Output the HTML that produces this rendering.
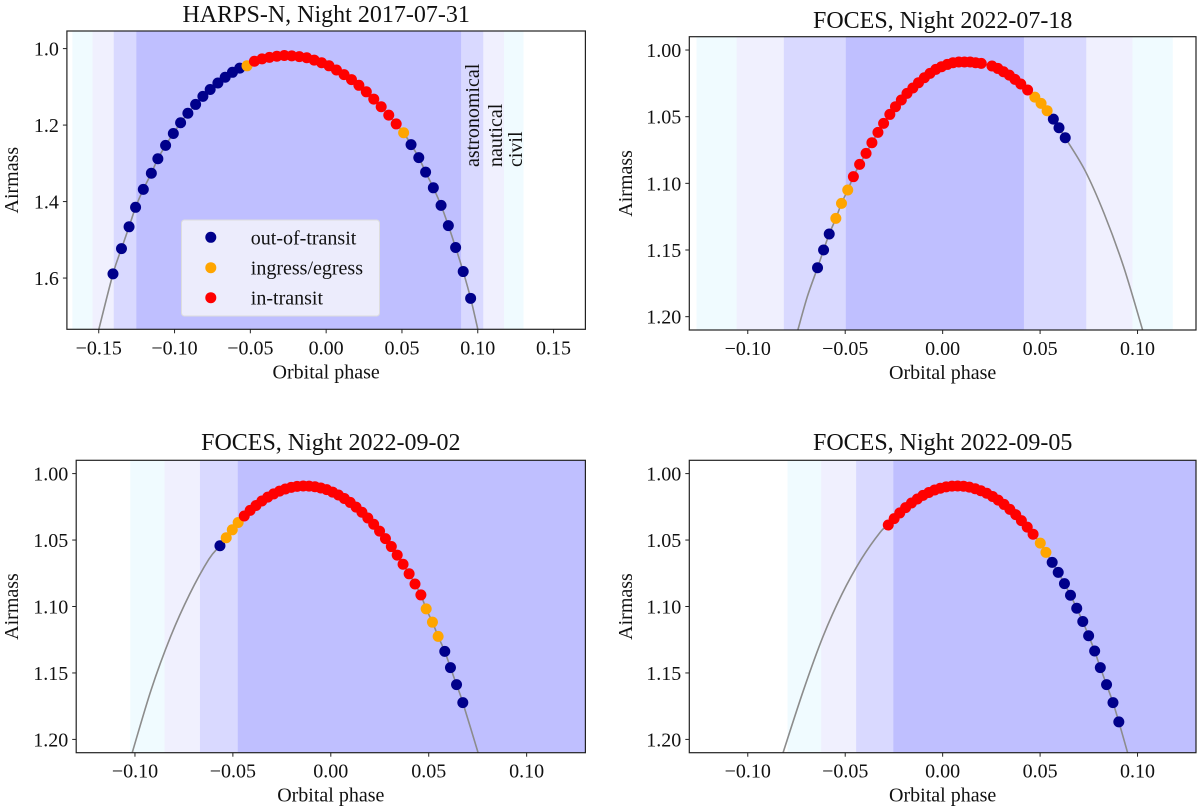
<!DOCTYPE html>
<html><head><meta charset="utf-8">
<style>
html,body{margin:0;padding:0;background:#fff;}
svg{display:block;font-family:"Liberation Serif","DejaVu Serif",serif;}
</style></head>
<body>
<svg id="fig" width="1200" height="812" viewBox="0 0 1200 812" xmlns="http://www.w3.org/2000/svg"></svg>
<script>
// ---------- Panel 1: HARPS-N 2017-07-31 ----------
const p1OutPhase=[-0.1406,-0.1350,-0.1300,-0.1257,-0.1206,-0.1153,-0.1110,-0.1059,-0.1008,-0.0960,-0.0912,-0.0861,-0.0813,-0.0765,-0.0714,-0.0666,-0.0618,-0.0570,0.0560,0.0611,0.0656,0.0707,0.0758,0.0806,0.0854,0.0904,0.0953];
const p1OutAm=[1.589,1.523,1.466,1.415,1.368,1.326,1.288,1.253,1.222,1.194,1.169,1.146,1.125,1.107,1.090,1.075,1.062,1.051,1.251,1.285,1.323,1.364,1.410,1.463,1.520,1.583,1.653];
const p1IngPhase=[-0.0522,0.0511];
const p1IngAm=[1.045,1.220];
const p1InPhase=[-0.0473,-0.0423,-0.0374,-0.0325,-0.0276,-0.0227,-0.0177,-0.0128,-0.0079,-0.0030,0.0019,0.0068,0.0118,0.0167,0.0216,0.0265,0.0314,0.0363,0.0413,0.0462];
const p1InAm=[1.033,1.027,1.023,1.020,1.018,1.019,1.021,1.024,1.030,1.037,1.045,1.056,1.068,1.081,1.096,1.113,1.132,1.152,1.174,1.197];
const p1CurvePhase=[-0.1500,0.1001];
const p1CurveAm=[1.735,1.735];
const p1BandStart=[-0.1674,-0.1541,-0.1401,-0.1252];
const p1BandEnd=[0.1302,0.1173,0.1036,0.0890];
const p1XTicks=[-0.15,-0.10,-0.05,0.00,0.05,0.10,0.15];
const p1XTickLabels=["\u22120.15","\u22120.10","\u22120.05","0.00","0.05","0.10","0.15"];
const p1YTicks=[1.0,1.2,1.4,1.6];
const p1YTickLabels=["1.0","1.2","1.4","1.6"];

// ---------- Panel 2: FOCES 2022-07-18 ----------
const p2OutPhase=[-0.0642,-0.0611,-0.0582,0.0568,0.0597,0.0629];
const p2OutAm=[1.1633,1.150,1.138,1.0518,1.0583,1.0658];
const p2IngPhase=[-0.0548,-0.0519,-0.0487,0.0473,0.0505,0.0536];
const p2IngAm=[1.1263,1.115,1.105,1.0353,1.040,1.0455];
const p2InPhase=[-0.0458,-0.0426,-0.0393,-0.0363,-0.0332,-0.0303,-0.0271,-0.0242,-0.0212,-0.0183,-0.0153,-0.0124,-0.0094,-0.0065,-0.0035,-0.0006,0.0024,0.0053,0.0083,0.0112,0.0141,0.0169,0.0198,0.0253,0.0283,0.0312,0.0342,0.0371,0.0401,0.0436];
const p2InAm=[1.095,1.0858,1.0775,1.0695,1.0618,1.055,1.0483,1.0425,1.0375,1.0325,1.0285,1.0245,1.0208,1.0175,1.0145,1.0125,1.0108,1.0095,1.009,1.009,1.009,1.0095,1.010,1.012,1.0138,1.0163,1.0188,1.022,1.0255,1.030];
const p2CurvePhase=[-0.0743,-0.0694,0.0731,0.0829,0.0928,0.1026];
const p2CurveAm=[1.210,1.1848,1.0905,1.1228,1.1623,1.210];
const p2BandStart=[-0.1263,-0.1057,-0.0815,-0.0497];
const p2BandEnd=[0.1181,0.0974,0.0737,0.0417];

// ---------- Panel 3: FOCES 2022-09-02 ----------
const p3OutPhase=[-0.0566,0.0582,0.0611,0.0642,0.0674];
const p3OutAm=[1.0543,1.1338,1.146,1.1588,1.1723];
const p3IngPhase=[-0.0534,-0.0503,-0.0473,0.0487,0.0519,0.0548];
const p3IngAm=[1.0483,1.0423,1.0368,1.1018,1.1118,1.1225];
const p3InPhase=[-0.0442,-0.0412,-0.0382,-0.0352,-0.0322,-0.0292,-0.0262,-0.0232,-0.0202,-0.0172,-0.0141,-0.0111,-0.0081,-0.0051,-0.0021,0.0009,0.0039,0.0069,0.0099,0.0129,0.0159,0.0189,0.0219,0.0249,0.0279,0.0309,0.0339,0.0369,0.0400,0.0430,0.0460];
const p3InAm=[1.0319,1.0277,1.0240,1.0206,1.0177,1.0153,1.0132,1.0116,1.0104,1.0096,1.0093,1.0094,1.0099,1.0108,1.0121,1.0139,1.0161,1.0187,1.0217,1.0252,1.0291,1.0334,1.0381,1.0433,1.0489,1.0549,1.0613,1.0682,1.0754,1.0831,1.0913];
const p3CurvePhase=[-0.1014,-0.0917,-0.0819,-0.0721,-0.0623,0.0752];
const p3CurveAm=[1.210,1.1625,1.123,1.0908,1.0645,1.210];
const p3BandStart=[-0.1024,-0.0849,-0.0668,-0.0475];
const p3BandEnd=[0.2,0.2,0.2,0.2];

// ---------- Panel 4: FOCES 2022-09-05 ----------
const p4OutPhase=[0.0562,0.0593,0.0625,0.0656,0.0688,0.0719,0.0749,0.0780,0.0809,0.0841,0.0874,0.0904];
const p4OutAm=[1.0668,1.0743,1.0828,1.0915,1.1013,1.1113,1.122,1.1335,1.146,1.1588,1.1723,1.1868];
const p4IngPhase=[0.0501,0.0530];
const p4IngAm=[1.0523,1.0593];
const p4InPhase=[-0.0279,-0.0249,-0.0220,-0.0190,-0.0160,-0.0130,-0.0101,-0.0071,-0.0041,-0.0012,0.0018,0.0048,0.0077,0.0107,0.0137,0.0167,0.0196,0.0226,0.0256,0.0285,0.0315,0.0345,0.0375,0.0404,0.0434,0.0464];
const p4InAm=[1.0387,1.0339,1.0296,1.0256,1.0221,1.0191,1.0164,1.0142,1.0123,1.0110,1.0100,1.0094,1.0093,1.0095,1.0102,1.0114,1.0129,1.0148,1.0172,1.0200,1.0232,1.0269,1.0309,1.0354,1.0403,1.0456];
const p4CurvePhase=[-0.0819,-0.0713,-0.0615,-0.0517,-0.0418,-0.0320,0.0949];
const p4CurveAm=[1.210,1.1625,1.123,1.0908,1.0645,1.044,1.210];
const p4BandStart=[-0.0796,-0.0623,-0.0444,-0.0253];
const p4BandEnd=[0.2,0.2,0.2,0.2];

const focesXTicks=[-0.10,-0.05,0.00,0.05,0.10];
const focesXTickLabels=["\u22120.10","\u22120.05","0.00","0.05","0.10"];
const focesYTicks=[1.00,1.05,1.10,1.15,1.20];
const focesYTickLabels=["1.00","1.05","1.10","1.15","1.20"];

const bandColors=["#f0fbff","#f0f0fe","#d9d9ff","#bfbfff"];
const NS="http://www.w3.org/2000/svg";
const svg=document.getElementById('fig');
function mk(tag,attrs,parent){const e=document.createElementNS(NS,tag);for(const k in attrs)e.setAttribute(k,attrs[k]);(parent||svg).appendChild(e);return e;}

function panel(id,cfg){
  const g=mk('g',{});
  
  
  const L=cfg.box[0],T=cfg.box[1],R=cfg.box[2],B=cfg.box[3];
  const sx=v=>L+(v-cfg.xlim[0])/(cfg.xlim[1]-cfg.xlim[0])*(R-L);
  const sy=v=>T+(v-cfg.ylim[0])/(cfg.ylim[1]-cfg.ylim[0])*(B-T);
  const cp=mk('clipPath',{id:id+'-clip'},g);
  mk('rect',{x:L,y:T,width:R-L,height:B-T},cp);
  const plot=mk('g',{'clip-path':'url(#'+id+'-clip)'},g);
  
  
  const bandNames=['civil-twilight-band','nautical-twilight-band','astronomical-twilight-band','night-band'];
  for(let i=0;i<cfg.bs.length;i++){
    const r=mk('rect',{x:sx(cfg.bs[i]),y:T,width:sx(cfg.be[i])-sx(cfg.bs[i]),height:B-T,fill:bandColors[i]},plot);
    
    
  }
  let pts=[];
  cfg.curve[0].forEach((p,i)=>pts.push([p,cfg.curve[1][i]]));
  cfg.series.forEach(s=>s.ph.forEach((p,i)=>pts.push([p,s.am[i]])));
  pts.sort((a,b)=>a[0]-b[0]);
  pts=pts.map(p=>[sx(p[0]),sy(p[1])]);
  let d='M'+pts[0][0].toFixed(2)+','+pts[0][1].toFixed(2);
  for(let i=0;i<pts.length-1;i++){
    const p0=pts[Math.max(i-1,0)],p1=pts[i],p2=pts[i+1],p3=pts[Math.min(i+2,pts.length-1)];
    const c1=[p1[0]+(p2[0]-p0[0])/6,p1[1]+(p2[1]-p0[1])/6];
    const c2=[p2[0]-(p3[0]-p1[0])/6,p2[1]-(p3[1]-p1[1])/6];
    d+=' C'+c1[0].toFixed(2)+','+c1[1].toFixed(2)+' '+c2[0].toFixed(2)+','+c2[1].toFixed(2)+' '+p2[0].toFixed(2)+','+p2[1].toFixed(2);
  }
  const c=mk('path',{d:d,fill:'none',stroke:'#8c8c8c','stroke-width':1.6},plot);
  
  
  cfg.series.forEach(s=>{
    s.ph.forEach((p,i)=>{
      const m=mk('circle',{cx:sx(p),cy:sy(s.am[i]),r:5.5,fill:s.color},plot);
      
      
    });
  });
  const f=mk('rect',{x:L,y:T,width:R-L,height:B-T,fill:'none',stroke:'#222','stroke-width':1.2},g);
  
  
  cfg.xt.forEach((v,i)=>{
    const x=sx(v);
    mk('line',{x1:x,y1:B,x2:x,y2:B+4,stroke:'#222','stroke-width':1},g);
    const t=mk('text',{x:x,y:B+25,'text-anchor':'middle','font-size':20,fill:'#111'},g);
    t.textContent=cfg.xtl[i];
    
    
  });
  cfg.yt.forEach((v,i)=>{
    const y=sy(v);
    mk('line',{x1:L-4,y1:y,x2:L,y2:y,stroke:'#222','stroke-width':1},g);
    const t=mk('text',{x:L-8,y:y+7,'text-anchor':'end','font-size':20,fill:'#111'},g);
    t.textContent=cfg.ytl[i];
    
    
  });
  const tt=mk('text',{x:(L+R)/2,y:cfg.titleY,'text-anchor':'middle','font-size':24,fill:'#111'},g);
  tt.textContent=cfg.title;
  
  
  const xl=mk('text',{x:(L+R)/2,y:B+49,'text-anchor':'middle','font-size':20,fill:'#111'},g);
  xl.textContent='Orbital phase';
  
  
  const yx=cfg.ylabX, yc=(T+B)/2;
  const yl=mk('text',{x:yx,y:yc,'text-anchor':'middle','font-size':20,fill:'#111',transform:'rotate(-90 '+yx+' '+yc+')'},g);
  yl.textContent='Airmass';
  
  
  return {g,sx,sy};
}
function ser(out,outA,ing,ingA,inn,innA){
  return [{ph:out,am:outA,color:'#00008b',name:'out-of-transit'},{ph:ing,am:ingA,color:'#ffa500',name:'ingress-egress'},{ph:inn,am:innA,color:'#ff0000',name:'in-transit'}];
}

const P1=panel('panel-harpsn-2017-07-31',{box:[66.9,31,585.4,329.3],xlim:[-0.171,0.171],ylim:[0.954,1.734],
  xt:p1XTicks,xtl:p1XTickLabels,yt:p1YTicks,ytl:p1YTickLabels,bs:p1BandStart,be:p1BandEnd,
  curve:[p1CurvePhase,p1CurveAm],series:ser(p1OutPhase,p1OutAm,p1IngPhase,p1IngAm,p1InPhase,p1InAm),
  title:'HARPS-N, Night 2017-07-31',titleY:22,ylabX:18});
panel('panel-foces-2022-07-18',{box:[689.3,36.7,1196,330],xlim:[-0.13,0.13],ylim:[0.99,1.21],
  xt:focesXTicks,xtl:focesXTickLabels,yt:focesYTicks,ytl:focesYTickLabels,bs:p2BandStart,be:p2BandEnd,
  curve:[p2CurvePhase,p2CurveAm],series:ser(p2OutPhase,p2OutAm,p2IngPhase,p2IngAm,p2InPhase,p2InAm),
  title:'FOCES, Night 2022-07-18',titleY:28,ylabX:632});
panel('panel-foces-2022-09-02',{box:[76.2,460.3,585.4,752.7],xlim:[-0.13,0.13],ylim:[0.99,1.21],
  xt:focesXTicks,xtl:focesXTickLabels,yt:focesYTicks,ytl:focesYTickLabels,bs:p3BandStart,be:p3BandEnd,
  curve:[p3CurvePhase,p3CurveAm],series:ser(p3OutPhase,p3OutAm,p3IngPhase,p3IngAm,p3InPhase,p3InAm),
  title:'FOCES, Night 2022-09-02',titleY:450,ylabX:18});
panel('panel-foces-2022-09-05',{box:[689.3,460.3,1196,752.7],xlim:[-0.13,0.13],ylim:[0.99,1.21],
  xt:focesXTicks,xtl:focesXTickLabels,yt:focesYTicks,ytl:focesYTickLabels,bs:p4BandStart,be:p4BandEnd,
  curve:[p4CurvePhase,p4CurveAm],series:ser(p4OutPhase,p4OutAm,p4IngPhase,p4IngAm,p4InPhase,p4InAm),
  title:'FOCES, Night 2022-09-05',titleY:450,ylabX:632});

const twLabels=['astronomical','nautical','civil'];
const twX=[472,495,515];
twLabels.forEach((s,i)=>{
  const t=mk('text',{x:twX[i]+7,y:167,'font-size':20,fill:'#111',transform:'rotate(-90 '+(twX[i]+7)+' 167)'},P1.g);
  t.textContent=s;
  
  
});

const lg=mk('g',{},P1.g);


const lb=mk('rect',{x:181.5,y:220,width:198,height:96,rx:3,fill:'#f3f3fb','fill-opacity':0.85,stroke:'#dddddd','stroke-width':1},lg);


const legLabels=['out-of-transit','ingress/egress','in-transit'];
const legColors=['#00008b','#ffa500','#ff0000'];
const legY=[237.3,267.7,297.7];
legLabels.forEach((s,i)=>{
  const m=mk('circle',{cx:210.8,cy:legY[i],r:5.5,fill:legColors[i]},lg);
  
  
  const t=mk('text',{x:250.8,y:legY[i]+7,'font-size':20,fill:'#111'},lg);
  t.textContent=s;
  
  
});
</script>
</body></html>
